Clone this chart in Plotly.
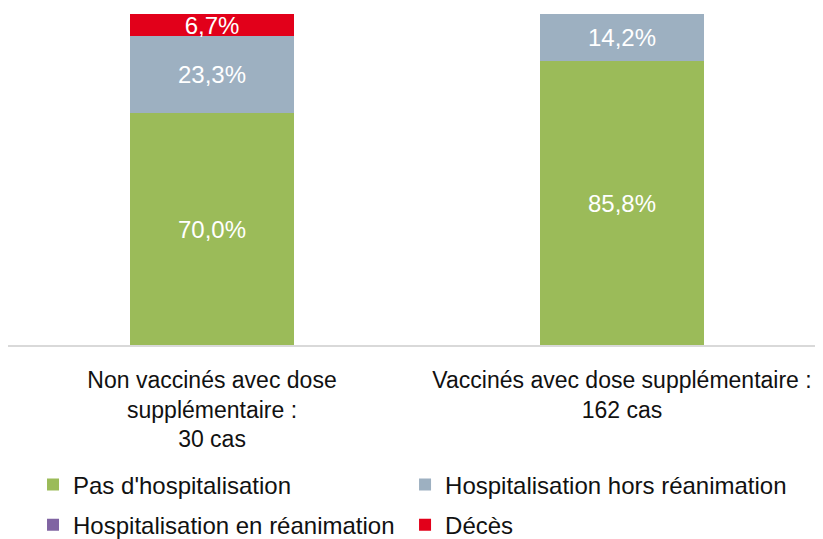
import plotly.graph_objects as go

# Data
categories = ["Non vaccinés avec dose<br>supplémentaire :<br>30 cas",
              "Vaccinés avec dose supplémentaire :<br>162 cas"]
series_names = ["Pas d'hospitalisation", "Hospitalisation hors réanimation",
                "Hospitalisation en réanimation", "Décès"]
pas_hospit = [70.0, 85.8]
hospit_hors_rea = [23.3, 14.2]
hospit_rea = [0.0, 0.0]
deces = [6.7, 0.0]

colors = ["#9BBB59", "#9DB0C1", "#8064A2", "#E2001A"]

FONT = "Liberation Sans, Arial, Helvetica, sans-serif"

# one legend per entry so the 2x2 grid can be placed exactly
legend_ids = ["legend", "legend2", "legend3", "legend4"]
legend_pos = [(0.031, -0.423), (0.492, -0.423), (0.031, -0.544), (0.492, -0.544)]


def fmt(v):
    return f"{v:.1f}%".replace(".", ",") if v else ""


fig = go.Figure()
for name, vals, col, lg in zip(series_names,
                               [pas_hospit, hospit_hors_rea, hospit_rea, deces],
                               colors, legend_ids):
    fig.add_trace(go.Bar(
        x=[0, 1], y=vals, name=name,
        marker=dict(color=col, line=dict(width=0)),
        text=[fmt(v) for v in vals],
        textposition="inside", insidetextanchor="middle",
        constraintext="none",
        textfont=dict(size=24, color="white", family=FONT),
        legend=lg,
        hoverinfo="skip",
    ))

legends = {}
for lg, (lx, ly) in zip(legend_ids, legend_pos):
    legends[lg] = dict(
        orientation="h", xanchor="left", yanchor="middle",
        x=lx, y=ly, font=dict(size=24, color="#111", family=FONT),
        itemwidth=30, bgcolor="rgba(0,0,0,0)",
    )

# page body has an 8px margin, so the figure is sized to fit the window
fig.update_layout(
    barmode="stack",
    bargap=0.6,
    width=807, height=531,
    margin=dict(l=0, r=0, t=6, b=194, autoexpand=False),
    paper_bgcolor="white", plot_bgcolor="white",
    font=dict(family=FONT, size=23, color="#111"),
    showlegend=True,
    **legends,
)

fig.update_xaxes(
    range=[-0.4976, 1.4707],
    tickvals=[0, 1], ticktext=categories,
    showline=True, linecolor="#D9D9D9", linewidth=2,
    showgrid=False, zeroline=False, ticks="",
    ticklabelstandoff=13, automargin=False,
    tickfont=dict(size=23, color="#111", family=FONT),
)
fig.update_yaxes(range=[0, 100], visible=False)

fig.write_html("out.html")
